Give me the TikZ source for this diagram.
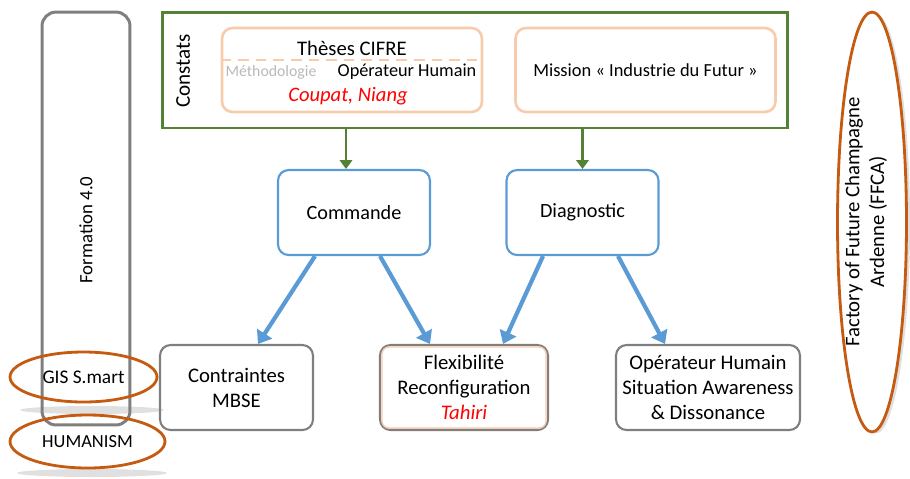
\documentclass[tikz,border=0pt]{standalone}
\usepackage{fontspec}
\setmainfont{Carlito}
\usepackage{xcolor}
\usetikzlibrary{arrows.meta,positioning,shapes.geometric,calc,shadows}
\definecolor{cGreen}{HTML}{548235}
\definecolor{cBlue}{HTML}{5B9BD5}
\definecolor{cGray}{HTML}{7F7F7F}
\definecolor{cOrange}{HTML}{C55A11}
\definecolor{cPeach}{HTML}{F8CBAD}
\definecolor{cRed}{HTML}{FF0000}
\newcommand{\fs}[1]{\fontsize{#1}{14.2}\selectfont}

\begin{document}
\begin{tikzpicture}[x=0.02cm, y=-0.02cm,
        every node/.style={font=\fs{11.5}},
        box/.style={draw, rounded corners=6pt, align=center,
                    minimum height=1.7cm, line width=1.2pt},
        bluebox/.style={box, cBlue, text=black, minimum width=3.04cm},
        graybox/.style={box, cGray, text=black, font=\fs{11.8}},
        peachbox/.style={draw=cPeach, rounded corners=6pt, line width=1.5pt,
                    minimum width=5.2cm, minimum height=1.68cm},
        ring/.style={draw=cOrange, ellipse, line width=1.6pt, inner sep=0pt},
        blarr/.style={-{Triangle[length=7pt,width=10pt]}, line width=2.4pt, cBlue},
        grarr/.style={-{Triangle[length=5pt,width=7pt]}, line width=1.6pt, cGreen},
        red/.style={text=cRed, font=\fs{11.7}\itshape},
    ]
        \useasboundingbox (0,0) rectangle (910,478);

        % shadows under the left rings
        \fill[gray!40, opacity=.6] (92,410) ellipse [x radius=72, y radius=4];
        \fill[gray!40, opacity=.6] (92,473) ellipse [x radius=75, y radius=4];

        \node[draw=cGray, rounded corners=8pt, line width=1.7pt,
              minimum width=1.76cm, minimum height=8.26cm] (form) at (86,218.5) {};
        \node[rotate=90, font=\fs{10.7}] (formlbl) at (86,230) {Formation 4.0};
        \node[ring, minimum width=2.94cm, minimum height=1cm, font=\fs{11}] (gis) at (83.5,377) {GIS S.mart};
        \node[ring, minimum width=3.1cm, minimum height=1.06cm, font=\fs{10.5}] (hum) at (87.5,441.5) {HUMANISM};

        \node[draw=cGreen, line width=1.7pt, minimum width=12.52cm,
              minimum height=2.32cm] (constats) at (475,70) {};
        \node[rotate=90, font=\fs{12}] (constlbl) at (183,71) {Constats};

        \node[peachbox] (theses) at (352,70) {};
        \draw[cPeach, line width=1.2pt, dashed, dash pattern=on 6pt off 4pt]
            (theses.west |- 0,60) -- (theses.east |- 0,60);
        \node[font=\fs{11.8}] (thlbl) at (352,48) {Thèses CIFRE};
        \node[text=gray!55, font=\fs{9}] (metho) at (271,72) {Méthodologie};
        \node[font=\fs{10.4}] (ophum) at (407,72) {Opérateur Humain};
        \node[red] (coupat) at (348,96) {Coupat, Niang};

        \node[peachbox] (mission) at (645.5,70) {};
        \node[font=\fs{10.5}] (missionlbl) at (mission) {Mission « Industrie du Futur »};

        \node[bluebox] (cmd) at (354,212.5) {Commande};
        \node[bluebox] (diag) at (582.5,212.5) {Diagnostic};

        \node[graybox, minimum width=3.06cm] (contr) at (236.5,387.5) {Contraintes\\MBSE};
        \node[graybox, minimum width=3.36cm] (flex) at (464,387.5) {Flexibilité\\Reconfiguration\\\textcolor{cRed}{\itshape Tahiri}};
        \draw[cPeach, line width=.8pt, rounded corners=4pt]
            ($(flex.north west)+(3,3)$) rectangle ($(flex.south east)+(-3,-3)$);
        \node[graybox, minimum width=3.68cm] (oper) at (708,387.5) {Opérateur Humain\\Situation Awareness\\\& Dissonance};

        \node[ring, fill=white, minimum width=1.38cm, minimum height=8.4cm,
              drop shadow={opacity=.25, shadow xshift=2pt, shadow yshift=-1pt}] (ffca) at (872,222) {};
        \node[rotate=90, align=center, font=\fs{11.8}] (ffcalbl) at (866,222) {Factory of Future Champagne\\Ardenne (FFCA)};

        \draw[grarr] (constats.south -| 346,0) -- (cmd.north -| 346,0);
        \draw[grarr] (constats.south -| diag) -- (diag.north);

        \draw[blarr] ([xshift=-0.78cm]cmd.south) -- ([xshift=0.43cm]contr.north);
        \draw[blarr] ([xshift=0.52cm]cmd.south) -- ([xshift=-0.68cm]flex.north);
        \draw[blarr] ([xshift=-0.79cm]diag.south) -- ([xshift=0.78cm]flex.north);
        \draw[blarr] ([xshift=0.71cm]diag.south) -- ([xshift=-0.86cm]oper.north);
    \end{tikzpicture}
\end{document}
